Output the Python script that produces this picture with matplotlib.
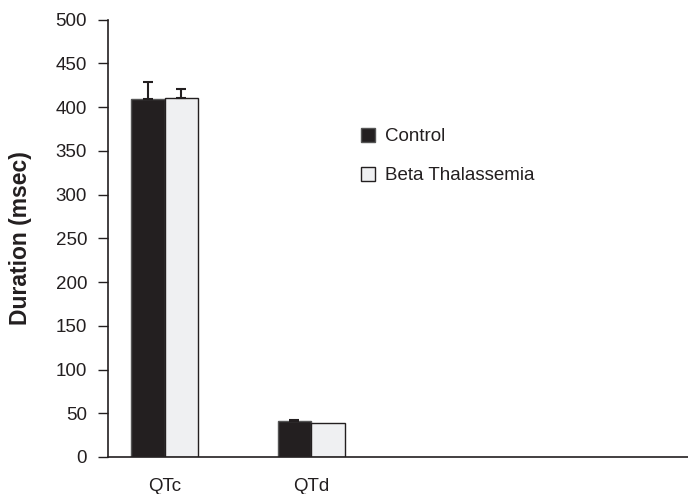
import numpy as np
import matplotlib.pyplot as plt

plt.rcParams['font.family'] = ['Liberation Sans', 'DejaVu Sans']

categories = ['QTc', 'QTd']
control = [409, 41]
control_err = [20, 1.5]
beta = [410, 38.5]
beta_err = [11, 0]

fig = plt.figure(figsize=(6.88, 4.94), dpi=100)
ax = fig.add_axes([0.157, 0.075, 0.843, 0.885])

x = np.arange(len(categories))
w = 0.229
ebar = dict(ecolor='#231f20', elinewidth=1.5, capsize=3.5, capthick=1.5)
ax.bar(x - w / 2, control, w, color='#231f20', edgecolor='#555555',
       linewidth=1, label='Control')
ax.bar(x + w / 2, beta, w, color='#eff0f2', edgecolor='#231f20',
       linewidth=1, label='Beta Thalassemia')

# upper error bars only, skip the zero ones
for xs, vals, errs in [(x - w / 2, control, control_err), (x + w / 2, beta, beta_err)]:
    for xi, v, e in zip(xs, vals, errs):
        if e > 0:
            ax.errorbar(xi, v, yerr=[[0], [e]], fmt='none', **ebar)

ax.set_xlim(-0.386, 3.57)
ax.set_ylim(0, 500)
ax.set_yticks(np.arange(0, 501, 50))
ax.set_xticks(x)
ax.set_xticklabels(categories, fontsize=13.5, color='#231f20')
ax.tick_params(axis='x', length=0, pad=15)
ax.tick_params(axis='y', length=7, width=1, direction='out', labelsize=13.5,
               colors='#231f20', pad=8)
ax.spines['top'].set_visible(False)
ax.spines['right'].set_visible(False)
for s in ['left', 'bottom']:
    ax.spines[s].set_color('#231f20')
    ax.spines[s].set_linewidth(1.2)

ax.set_ylabel('Duration (msec)', fontsize=16.5, fontweight='bold', color='#231f20', labelpad=17)

ax.legend(loc='upper left', bbox_to_anchor=(0.424, 0.77), frameon=False, fontsize=13.5,
          handlelength=0.75, handleheight=0.75, handletextpad=0.5, labelspacing=1.15,
          labelcolor='#231f20', borderaxespad=0)

fig.savefig('out.png', dpi=100)
